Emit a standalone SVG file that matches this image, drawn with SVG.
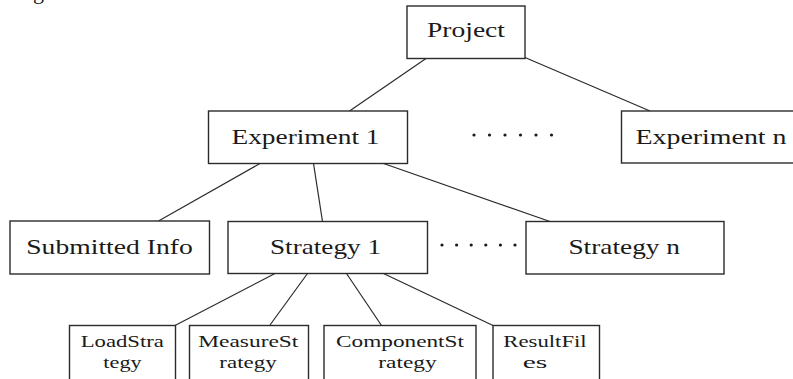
<svg xmlns="http://www.w3.org/2000/svg" width="793" height="379" viewBox="0 0 793 379">
  <style>
    .box { fill: #ffffff; stroke: #2b2b2b; stroke-width: 1.4; }
    .edge { fill: none; stroke: #2b2b2b; stroke-width: 1.2; }
    .lbl { font-family: "Liberation Serif", "Times New Roman", serif; font-size: 21.5px; fill: #1a1a1a; text-anchor: middle; }
    .sm { font-family: "Liberation Serif", "Times New Roman", serif; font-size: 17.6px; fill: #1a1a1a; text-anchor: middle; }
    .dot { fill: #1a1a1a; }
  </style>

  <!-- clipped caption fragment at the top edge -->
  <text x="33" y="-1.5" font-family="Liberation Serif, serif" font-size="22" fill="#1a1a1a">g</text>

  <!-- connectors -->
  <g id="connectors">
    <line class="edge" x1="426" y1="58.5" x2="349.5" y2="111"/>
    <line class="edge" x1="525" y1="57.5" x2="650" y2="111"/>
    <line class="edge" x1="260" y1="163.5" x2="158.5" y2="221"/>
    <line class="edge" x1="313.5" y1="163.5" x2="322.5" y2="221.5"/>
    <line class="edge" x1="383.5" y1="163.5" x2="550" y2="221.5"/>
    <line class="edge" x1="275" y1="273.5" x2="175" y2="325.5"/>
    <line class="edge" x1="307.5" y1="273.5" x2="270" y2="325"/>
    <line class="edge" x1="346.5" y1="273.5" x2="381.5" y2="325.5"/>
    <line class="edge" x1="383.5" y1="273.5" x2="493" y2="325.5"/>
  </g>

  <!-- ellipsis marks between sibling nodes -->
  <g id="ellipsis-experiments">
    <circle class="dot" cx="474" cy="135" r="1.6"/>
    <circle class="dot" cx="489.5" cy="135" r="1.6"/>
    <circle class="dot" cx="505" cy="135" r="1.6"/>
    <circle class="dot" cx="520.5" cy="135" r="1.6"/>
    <circle class="dot" cx="536" cy="135" r="1.6"/>
    <circle class="dot" cx="551.5" cy="135" r="1.6"/>
  </g>
  <g id="ellipsis-strategies">
    <circle class="dot" cx="442" cy="245" r="1.6"/>
    <circle class="dot" cx="456.6" cy="245" r="1.6"/>
    <circle class="dot" cx="471.2" cy="245" r="1.6"/>
    <circle class="dot" cx="485.8" cy="245" r="1.6"/>
    <circle class="dot" cx="500.4" cy="245" r="1.6"/>
    <circle class="dot" cx="515" cy="245" r="1.6"/>
  </g>

  <g id="project">
    <rect class="box" x="407" y="6" width="118" height="52.5"/>
    <text class="lbl" x="466" y="37.3" textLength="78" lengthAdjust="spacingAndGlyphs">Project</text>
  </g>

  <g id="experiment-1">
    <rect class="box" x="208.5" y="111" width="199" height="52.5"/>
    <text class="lbl" x="305.5" y="144" textLength="148" lengthAdjust="spacingAndGlyphs">Experiment 1</text>
  </g>

  <g id="experiment-n">
    <rect class="box" x="621.5" y="111" width="190" height="52"/>
    <text class="lbl" x="711" y="144" textLength="151" lengthAdjust="spacingAndGlyphs">Experiment n</text>
  </g>

  <g id="submitted-info">
    <rect class="box" x="10" y="221" width="199.5" height="53"/>
    <text class="lbl" x="109.5" y="253.5" textLength="166.5" lengthAdjust="spacingAndGlyphs">Submitted Info</text>
  </g>

  <g id="strategy-1">
    <rect class="box" x="228" y="221.5" width="199.5" height="52"/>
    <text class="lbl" x="325.5" y="254" textLength="111" lengthAdjust="spacingAndGlyphs">Strategy 1</text>
  </g>

  <g id="strategy-n">
    <rect class="box" x="526" y="221.5" width="198" height="52.5"/>
    <text class="lbl" x="624.2" y="254" textLength="111.5" lengthAdjust="spacingAndGlyphs">Strategy n</text>
  </g>

  <g id="load-strategy">
    <rect class="box" x="69.5" y="325.5" width="106" height="70"/>
    <text class="sm" x="122.3" y="346.7" textLength="83.3" lengthAdjust="spacingAndGlyphs">LoadStra</text>
    <text class="sm" x="122.5" y="368.3" textLength="38.3" lengthAdjust="spacingAndGlyphs">tegy</text>
  </g>

  <g id="measure-strategy">
    <rect class="box" x="189.5" y="325.5" width="119" height="70"/>
    <text class="sm" x="248.3" y="346.7" textLength="100" lengthAdjust="spacingAndGlyphs">MeasureSt</text>
    <text class="sm" x="248" y="368.3" textLength="57.3" lengthAdjust="spacingAndGlyphs">rategy</text>
  </g>

  <g id="component-strategy">
    <rect class="box" x="324" y="325.5" width="152" height="70"/>
    <text class="sm" x="400" y="346.7" textLength="128" lengthAdjust="spacingAndGlyphs">ComponentSt</text>
    <text class="sm" x="407.5" y="368.3" textLength="58.3" lengthAdjust="spacingAndGlyphs">rategy</text>
  </g>

  <g id="result-files">
    <rect class="box" x="493" y="325.5" width="106.5" height="70"/>
    <text class="sm" x="545" y="346.7" textLength="83.3" lengthAdjust="spacingAndGlyphs">ResultFil</text>
    <text class="sm" x="535" y="368.3" textLength="24.6" lengthAdjust="spacingAndGlyphs">es</text>
  </g>
</svg>
